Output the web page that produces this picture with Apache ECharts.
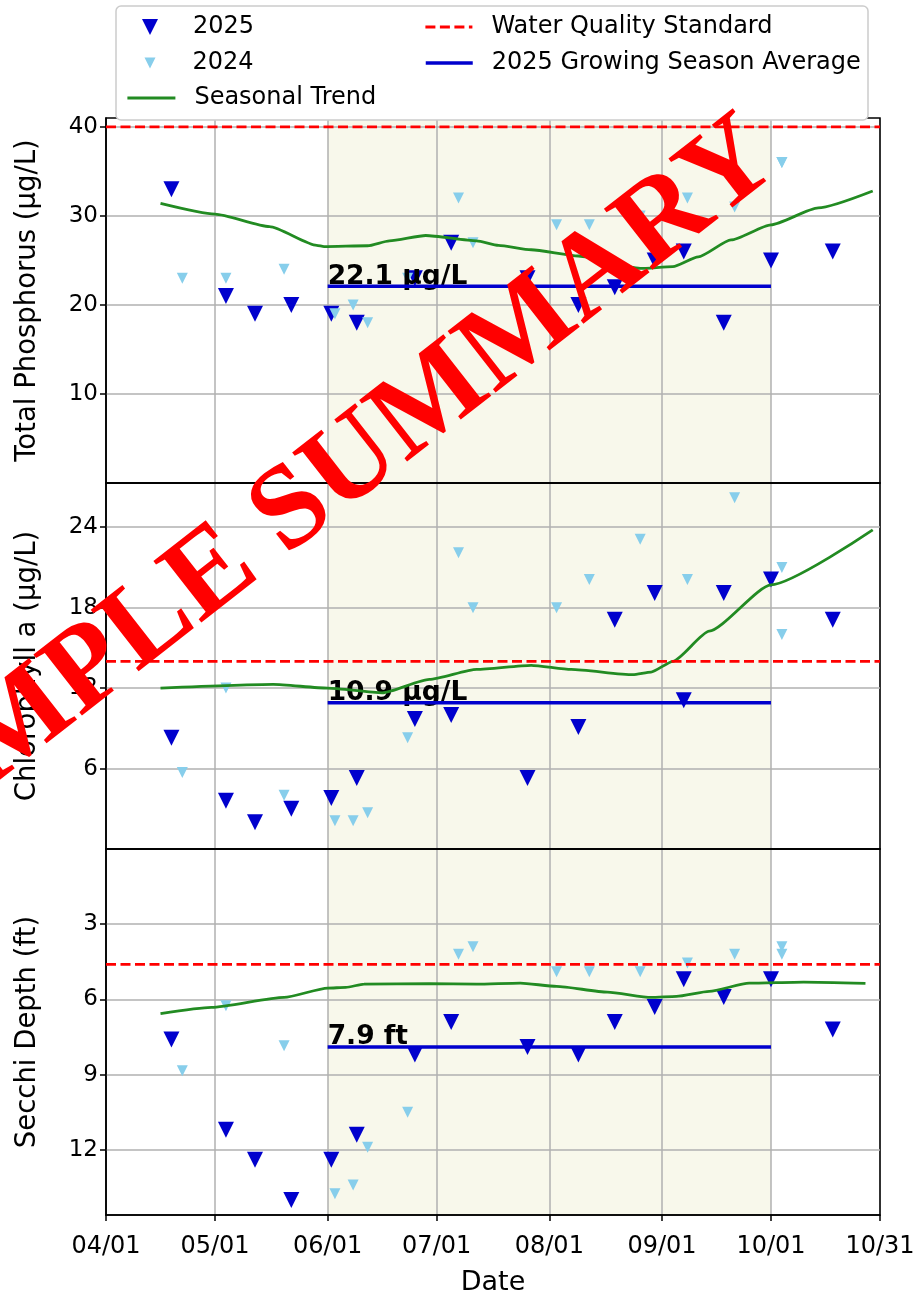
<!DOCTYPE html>
<html><head><meta charset="utf-8">
<script src="https://cdn.jsdelivr.net/npm/echarts@6/dist/echarts.min.js"></script>
<style>html,body{margin:0;padding:0;background:#fff}#c{width:924px;height:1296px}</style>
</head><body><div id="c"></div>
<script>
const YEAR = 2025;
const xMin = '04-01', xMax = '10-31';
const seasonStart = '06-01', seasonEnd = '10-01';

// 2025 samples
const dates2025 = ['04-19','05-04','05-12','05-22','06-02','06-09','06-25','07-05','07-26','08-09','08-19','08-30','09-07','09-18','10-01','10-18'];
const tp2025    = [33, 21, 19, 20, 19, 18, 23, 27, 23, 20, 22, 25, 26, 18, 25, 26];
const chl2025   = [8.3, 3.6, 2.0, 3.0, 3.8, 5.3, 9.7, 10.0, 5.3, 9.1, 17.1, 19.1, 11.1, 19.1, 20.1, 17.1];
const sd2025    = [7.6, 11.2, 12.4, 14.0, 12.4, 11.4, 8.2, 6.9, 7.9, 8.2, 6.9, 6.3, 5.2, 5.9, 5.2, 7.2];

// 2024 samples (plotted on the same seasonal axis)
const dates2024 = ['04-22','05-04','05-20','06-03','06-08','06-12','06-23','07-07','07-11','08-03','08-12','08-26','09-08','09-21','10-04','10-04'];
const tp2024    = [23, 23, 24, 19, 20, 18, 23, 32, 27, 29, 29, 30, 32, 31, 36, 36];
const chl2024   = [5.7, 12.0, 4.0, 2.1, 2.1, 2.7, 8.3, 22.1, 18.0, 18.0, 20.1, 23.1, 20.1, 26.2, 21.0, 16.0];
const sd2024    = [8.85, 6.25, 7.85, 13.75, 13.4, 11.9, 10.5, 4.2, 3.9, 4.9, 4.9, 4.9, 4.55, 4.2, 3.9, 4.2];

// Seasonal trend lines
const tpTrendDates = ['04-16','05-01','05-16','05-29','05-31','06-12','06-18','06-28','07-12','07-18','07-27','08-09','08-26','09-04','09-11','09-20','10-01','10-14','10-29'];
const tpTrend      = [31.4, 30.2, 28.8, 26.7, 26.55, 26.65, 27.2, 27.8, 27.2, 26.7, 26.2, 25.5, 24.1, 24.3, 25.4, 27.3, 29.0, 30.9, 32.8];
const chlTrendDates = ['04-16','05-17','06-01','06-16','06-29','07-12','07-27','08-07','08-24','08-29','09-04','09-14','10-01','10-29'];
const chlTrend      = [12.0, 12.28, 12.0, 11.65, 12.65, 13.4, 13.7, 13.4, 13.0, 13.2, 14.0, 16.25, 19.7, 23.8];
const sdTrendDates = ['04-16','04-30','05-20','06-01','06-06','06-11','06-29','07-12','07-24','08-03','08-17','08-29','09-05','09-14','09-25','10-10','10-27'];
const sdTrend      = [6.57, 6.32, 5.92, 5.55, 5.52, 5.39, 5.37, 5.39, 5.35, 5.48, 5.71, 5.92, 5.88, 5.68, 5.35, 5.31, 5.36];

// Standards and growing season averages
const standards = [40, 14, 4.6];
const averages  = [22.1, 10.9, 7.9];
const avgLabels = ['22.1 µg/L', '10.9 µg/L', '7.9 ft'];
const yNames = ['Total Phosphorus (µg/L)', 'Chlorophyll a (µg/L)', 'Secchi Depth (ft)'];
const yMax = [41, 27.3, 14.6];
const yInterval = [10, 6, 3];
const yTicks = [[10, 20, 30, 40], [6, 12, 18, 24], [3, 6, 9, 12]];
const xTicks = ['04-01','05-01','06-01','07-01','08-01','09-01','10-01','10-31'];

function t(md){ const p = md.split('-'); return new Date(YEAR, +p[0]-1, +p[1]).getTime(); }
function pts(d, v){ return d.map((x,i)=>[t(x), v[i]]); }
function pad(n){ return (n<10?'0':'')+n; }

const FONT = '"DejaVu Sans"';
const panelData = [
  {d25: tp2025, d24: tp2024, trD: tpTrendDates, tr: tpTrend},
  {d25: chl2025, d24: chl2024, trD: chlTrendDates, tr: chlTrend},
  {d25: sd2025, d24: sd2024, trD: sdTrendDates, tr: sdTrend}
];
const gridTops = [118, 483, 849];
const gridHeights = [365, 366, 366];
const tickVals = xTicks.map(t);

const grids = [], xAxes = [], yAxes = [], series = [];
for (let p = 0; p < 3; p++) {
  grids.push({left:106, top:gridTops[p], width:774, height:gridHeights[p], show:true,
    borderColor:'#000', borderWidth:1.5, backgroundColor:'transparent', outerBoundsMode:'none', containLabel:false});
  const last = p === 2;
  const xa = {gridIndex:p, type:'value', min:t(xMin), max:t(xMax), position:'bottom',
    axisLine:{show:true, onZero:false, lineStyle:{color:'#000', width:1.5}},
    axisTick:{show:false},
    axisLabel:{show:false},
    splitLine:{show:false}
  };
  if (last) {
    xa.axisTick = {show:true, length:6, lineStyle:{color:'#000', width:1.5}, customValues: tickVals};
    xa.axisLabel = {show:true, color:'#000', fontSize:24, fontFamily:FONT, margin:20, hideOverlap:false,
      customValues: tickVals,
      formatter: v => { const d = new Date(v); return pad(d.getMonth()+1)+'/'+pad(d.getDate()); }};
    xa.name = 'Date'; xa.nameLocation = 'middle'; xa.nameGap = 54;
    xa.nameTextStyle = {color:'#000', fontSize:27, fontFamily:FONT};
  }
  xAxes.push(xa);
  yAxes.push({gridIndex:p, type:'value', min:0, max:yMax[p], interval:yInterval[p], inverse: p===2,
    axisLine:{show:true, onZero:false, lineStyle:{color:'#000', width:1.5}},
    axisTick:{show:true, length:6, lineStyle:{color:'#000', width:1.5}, customValues: yTicks[p]},
    axisLabel:{color:'#000', fontSize:23, fontFamily:FONT, margin:8, customValues: yTicks[p]},
    splitLine:{show:true, lineStyle:{color:'#b0b0b0', width:1.5}},
    name: yNames[p], nameLocation:'middle', nameGap:64,
    nameTextStyle:{color:'#000', fontSize:27.5, fontFamily:FONT}
  });
  const pd = panelData[p];
  series.push({name:'shade'+p, type:'line', xAxisIndex:p, yAxisIndex:p, silent:true, symbol:'none',
    data:[[t(xMin), standards[p]],[t(xMax), standards[p]]], lineStyle:{opacity:0}, z:-1,
    markArea:{silent:true, z:-2, itemStyle:{color:'#f8f8eb'}, data:[[{xAxis:t(seasonStart)},{xAxis:t(seasonEnd)}]]},
    markLine:{silent:true, z:-1, symbol:'none', label:{show:false}, animation:false,
      lineStyle:{color:'#b0b0b0', width:1.5, type:'solid'}, data: tickVals.map(v => ({xAxis:v}))}
  });
  series.push({name:'2025', type:'scatter', xAxisIndex:p, yAxisIndex:p, symbol:'triangle', symbolRotate:180,
    symbolSize:16, itemStyle:{color:'#0000CD', opacity:1}, data: pts(dates2025, pd.d25)});
  series.push({name:'2024', type:'scatter', xAxisIndex:p, yAxisIndex:p, symbol:'triangle', symbolRotate:180,
    symbolSize:11, itemStyle:{color:'#87CEEB', opacity:1}, data: pts(dates2024, pd.d24)});
  series.push({name:'Seasonal Trend', type:'line', xAxisIndex:p, yAxisIndex:p, symbol:'none', smooth:0.2,
    smoothMonotone:'x', lineStyle:{color:'#228B22', width:2.8}, itemStyle:{color:'#228B22'}, data: pts(pd.trD, pd.tr)});
  series.push({name:'Water Quality Standard', type:'line', xAxisIndex:p, yAxisIndex:p, symbol:'none',
    lineStyle:{color:'#ff0000', width:2.8, type:[10,4.5]}, itemStyle:{color:'#ff0000'},
    data:[[t(xMin), standards[p]],[t(xMax), standards[p]]]});
  series.push({name:'2025 Growing Season Average', type:'line', xAxisIndex:p, yAxisIndex:p, symbol:'none',
    lineStyle:{color:'#0000CD', width:3.5}, itemStyle:{color:'#0000CD'},
    data:[[t(seasonStart), averages[p]],[t(seasonEnd), averages[p]]]});
  series.push({name:'avgLabel'+p, type:'scatter', xAxisIndex:p, yAxisIndex:p, symbolSize:0, silent:true,
    itemStyle:{opacity:1},
    data:[[t(seasonStart), averages[p]]],
    label:{show:true, position:'top', align:'left', distance:0, offset:[0,4], formatter: avgLabels[p],
      color:'#000', opacity:1, textBorderWidth:0, fontWeight:'bold', fontSize:26.5, fontFamily:FONT}});
}

const tri = 'path://M0,0L20,0L10,20Z';
const legTxt = (padL) => ({color:'#000', fontSize:24, fontFamily:FONT, padding:[0,0,0,padL]});
const lineLeg = {itemStyle:{opacity:0, borderWidth:0}, lineStyle:{width:'inherit'}};
const legends = [
  {data:[{name:'2025', icon:tri}], left:142, top:15, itemWidth:16, itemHeight:16, textStyle:legTxt(30), itemStyle:{borderWidth:0}},
  {data:[{name:'2024', icon:tri}], left:144.5, top:51, itemWidth:11, itemHeight:11, textStyle:legTxt(32), itemStyle:{borderWidth:0}},
  Object.assign({data:['Seasonal Trend'], left:126, top:86, itemWidth:48, itemHeight:14, textStyle:legTxt(14)}, lineLeg),
  Object.assign({data:['Water Quality Standard'], left:424, top:15, itemWidth:47, itemHeight:14, textStyle:legTxt(14)}, lineLeg),
  Object.assign({data:['2025 Growing Season Average'], left:424, top:51, itemWidth:47, itemHeight:14, textStyle:legTxt(14)}, lineLeg)
].map(l => Object.assign({orient:'horizontal', padding:0, selectedMode:false}, l));

const chart = echarts.init(document.getElementById('c'), null, {renderer:'canvas'});
chart.setOption({
  animation:false,
  backgroundColor:'#fff',
  grid: grids, xAxis: xAxes, yAxis: yAxes, series: series, legend: legends,
  graphic:[
    {type:'rect', z:0, shape:{x:116, y:6, width:752, height:114, r:5}, style:{fill:'#fff', stroke:'#cccccc', lineWidth:1.5}},
    {type:'text', z:100, x:308, y:500, rotation:38*Math.PI/180,
      style:{text:'SAMPLE SUMMARY', font:'bold 119px "Liberation Serif"', fill:'#ff0000',
        textAlign:'center', textVerticalAlign:'middle', align:'center', verticalAlign:'middle'}}
  ]
});
</script></body></html>
